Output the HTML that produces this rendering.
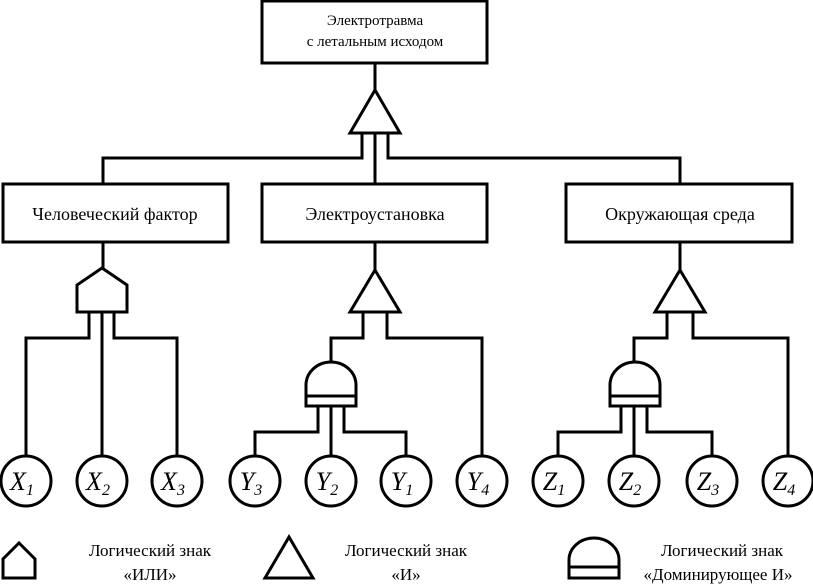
<!DOCTYPE html>
<html><head><meta charset="utf-8"><style>body{margin:0;background:#fff}svg{display:block}text{font-family:"Liberation Serif","DejaVu Serif",serif}</style></head><body>
<svg width="813" height="585" viewBox="0 0 813 585" xmlns="http://www.w3.org/2000/svg">
<g fill="none" stroke="#000" stroke-width="3">
<rect x="262" y="1" width="225" height="62"/>
<rect x="3" y="184" width="225" height="58"/>
<rect x="262" y="184" width="225" height="58"/>
<rect x="566" y="184" width="226" height="58"/>
<line x1="375" y1="63" x2="375" y2="90"/>
<polygon points="375,90 350,133 400,133"/>
<line x1="375" y1="133" x2="375" y2="184"/>
<polyline points="362,133 362,158 103,158 103,184"/>
<polyline points="388,133 388,158 680,158 680,184"/>
<line x1="103" y1="242" x2="103" y2="268"/>
<polygon points="102,268 77,285 77,312 127,312 127,285"/>
<line x1="102" y1="312" x2="102" y2="456"/>
<polyline points="89,312 89,338 26,338 26,456"/>
<polyline points="114,312 114,338 177,338 177,456"/>
<line x1="375" y1="242" x2="375" y2="270"/>
<polygon points="375,270 350,312 400,312"/>
<polyline points="363,312 363,338 331,338 331,362"/>
<polyline points="387,312 387,338 482,338 482,456"/>
<path d="M306,406 L306,385 A25,23 0 0 1 356,385 L356,406 Z"/>
<line x1="306" y1="396" x2="356" y2="396"/>
<line x1="331" y1="406" x2="331" y2="456"/>
<polyline points="318,406 318,432 255,432 255,456"/>
<polyline points="344,406 344,432 406,432 406,456"/>
<line x1="680" y1="242" x2="680" y2="270"/>
<polygon points="680,270 655,312 705,312"/>
<polyline points="667,312 667,338 634,338 634,362"/>
<polyline points="693,312 693,338 788,338 788,456"/>
<path d="M610,406 L610,385 A25,23 0 0 1 660,385 L660,406 Z"/>
<line x1="610" y1="396" x2="660" y2="396"/>
<line x1="634" y1="406" x2="634" y2="456"/>
<polyline points="621,406 621,432 558,432 558,456"/>
<polyline points="647,406 647,432 712,432 712,456"/>
<circle cx="26" cy="481" r="25"/><circle cx="102" cy="481" r="25"/><circle cx="177" cy="481" r="25"/>
<circle cx="255" cy="481" r="25"/><circle cx="331" cy="481" r="25"/><circle cx="406" cy="481" r="25"/><circle cx="482" cy="481" r="25"/>
<circle cx="558" cy="481" r="25"/><circle cx="634" cy="481" r="25"/><circle cx="712" cy="481" r="25"/><circle cx="788" cy="481" r="25"/>
<polygon points="19,543 3,559 3,578 35,578 35,559"/>
<polygon points="289,537 265,578 313,578"/>
<path d="M569,578 L569,560 A25,22 0 0 1 619,560 L619,578 Z"/>
<line x1="569" y1="567" x2="619" y2="567"/>
</g>
<g fill="#000" text-anchor="middle">
<text x="375" y="25" font-size="15">Электротравма</text>
<text x="375" y="46" font-size="15">с летальным исходом</text>
<text x="115" y="220" font-size="18">Человеческий фактор</text>
<text x="375" y="220" font-size="18">Электроустановка</text>
<text x="680" y="220" font-size="18">Окружающая среда</text>
<g font-style="italic" font-size="26">
<text x="22" y="490">X<tspan font-size="16" dy="5">1</tspan></text>
<text x="98" y="490">X<tspan font-size="16" dy="5">2</tspan></text>
<text x="173" y="490">X<tspan font-size="16" dy="5">3</tspan></text>
<text x="251" y="490">Y<tspan font-size="16" dy="5">3</tspan></text>
<text x="327" y="490">Y<tspan font-size="16" dy="5">2</tspan></text>
<text x="402" y="490">Y<tspan font-size="16" dy="5">1</tspan></text>
<text x="478" y="490">Y<tspan font-size="16" dy="5">4</tspan></text>
<text x="554" y="490">Z<tspan font-size="16" dy="5">1</tspan></text>
<text x="630" y="490">Z<tspan font-size="16" dy="5">2</tspan></text>
<text x="708" y="490">Z<tspan font-size="16" dy="5">3</tspan></text>
<text x="784" y="490">Z<tspan font-size="16" dy="5">4</tspan></text>
</g>
<g font-size="17">
<text x="150" y="556">Логический знак</text><text x="150" y="580">«ИЛИ»</text>
<text x="406" y="556">Логический знак</text><text x="406" y="580">«И»</text>
<text x="722" y="556">Логический знак</text><text x="718" y="580">«Доминирующее И»</text>
</g>
</g>
</svg>
</body></html>
